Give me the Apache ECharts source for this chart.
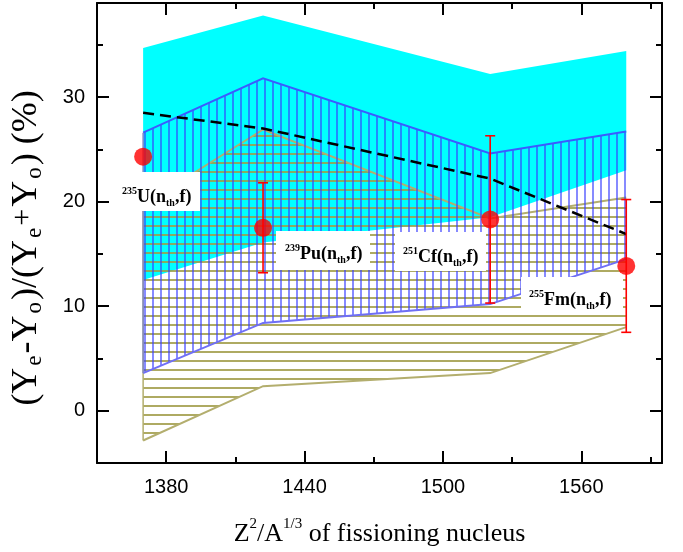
<!DOCTYPE html>
<html>
<head>
<meta charset="utf-8">
<script src="https://cdn.jsdelivr.net/npm/echarts@6/dist/echarts.min.js"></script>
<style>
  html, body { margin: 0; padding: 0; background: #fff; }
  #chart { width: 683px; height: 552px; }
</style>
</head>
<body>
<div id="chart"></div>
<script>
// Z^2/A^(1/3) of the four fissioning systems
const nucleusX = [1370, 1422, 1520.5, 1579.5];

// measured points (red) with error bars (null = no bar)
const expValues = [24.3, 17.5, 18.3, 13.85];
const expErrLow = [null, 13.2, 10.3, 7.5];
const expErrHigh = [null, 21.8, 26.3, 20.2];

// calculated bands
const cyanTop = [34.7, 37.8, 32.2, 34.4];
const cyanBottom = [12.5, 16.1, 18.5, 23.0];
const blueTop = [26.6, 31.8, 24.6, 26.7];
const blueBottom = [3.6, 8.4, 10.2, 14.5];
const oliveTop = [19.7, 26.9, 18.4, 20.4];
const oliveBottom = [-2.85, 2.35, 3.6, 8.0];

// dashed curve
const dashedValues = [28.5, 27.0, 22.2, 16.9];

// ticks
const xMajorTicks = [1380, 1440, 1500, 1560];
const xMinorTicks = [1410, 1470, 1530, 1590];
const yMajorTicks = [0, 10, 20, 30];
const yMinorTicks = [5, 15, 25, 35];

const serif = "'Liberation Serif', 'Times New Roman', serif";
const sans = "'Liberation Sans', Arial, sans-serif";

function hatch(w, h, color, vertical, lw) {
    const c = document.createElement('canvas');
    c.width = w;
    c.height = h;
    const ctx = c.getContext('2d');
    ctx.fillStyle = color;
    if (vertical) ctx.fillRect(0, 0, lw, h);
    else ctx.fillRect(0, 0, w, lw);
    return { image: c, repeat: 'repeat' };
}

function bandSeries(name, top, bottom, fill, edges, z) {
    return {
        name: name,
        type: 'custom',
        z: z,
        silent: true,
        data: nucleusX.map((x, i) => [x, bottom[i], top[i]]),
        encode: { x: 0, y: [1, 2] },
        renderItem: (params, api) => {
            if (params.dataIndex !== 0) return null;
            const up = nucleusX.map((x, i) => api.coord([x, top[i]]));
            const lo = nucleusX.map((x, i) => api.coord([x, bottom[i]]));
            const children = [{
                type: 'polygon',
                shape: { points: up.concat(lo.slice().reverse()) },
                style: { fill: fill }
            }];
            if (edges.top) children.push({ type: 'polyline', shape: { points: up }, style: { stroke: edges.top, lineWidth: 2, fill: null } });
            if (edges.bottom) children.push({ type: 'polyline', shape: { points: lo }, style: { stroke: edges.bottom, lineWidth: 2, fill: null } });
            if (edges.left) children.push({ type: 'line', shape: { x1: up[0][0], y1: up[0][1], x2: lo[0][0], y2: lo[0][1] }, style: { stroke: edges.left, lineWidth: 1.5 } });
            return { type: 'group', children: children };
        }
    };
}

function axisSet(dim, position, ticks, len, main) {
    const isX = dim === 'x';
    return {
        type: 'value',
        position: position,
        min: isX ? 1350 : -5,
        max: isX ? 1595 : 39,
        splitLine: { show: false },
        axisLine: { show: main, onZero: false, lineStyle: { color: '#000', width: 2 } },
        axisTick: { show: true, inside: true, length: len, customValues: ticks, lineStyle: { color: '#000', width: 2 } },
        axisLabel: { show: false }
    };
}

const xAxes = [
    axisSet('x', 'bottom', xMajorTicks, 12, true),
    axisSet('x', 'bottom', xMinorTicks, 6, false),
    axisSet('x', 'top', xMajorTicks, 12, true),
    axisSet('x', 'top', xMinorTicks, 6, false)
];
xAxes[0].axisLabel = {
    show: true, customValues: xMajorTicks, fontFamily: sans, fontSize: 20, color: '#000', margin: 14,
    formatter: v => String(v)
};
xAxes[0].name = '{n|Z}{sup|2}{n|/A}{sup|1/3}{n| of fissioning nucleus}';
xAxes[0].nameLocation = 'middle';
xAxes[0].nameGap = 54;
xAxes[0].nameTextStyle = {
    rich: {
        n: { fontFamily: serif, fontSize: 26, color: '#000', lineHeight: 30, verticalAlign: 'bottom' },
        sup: { fontFamily: serif, fontSize: 15, color: '#000', lineHeight: 15, verticalAlign: 'top' }
    }
};

const yAxes = [
    axisSet('y', 'left', yMajorTicks, 12, true),
    axisSet('y', 'left', yMinorTicks, 6, false),
    axisSet('y', 'right', yMajorTicks, 12, true),
    axisSet('y', 'right', yMinorTicks, 6, false)
];
yAxes[0].axisLabel = {
    show: true, customValues: yMajorTicks, fontFamily: sans, fontSize: 20, color: '#000', margin: 12,
    formatter: v => String(v)
};
yAxes[0].name = '{n|(Y}{sub|e}{n|-Y}{sub|o}{n|)/(Y}{sub|e}{sup|+}{n|Y}{sub|o}{end|) (%)}';
yAxes[0].nameLocation = 'middle';
yAxes[0].nameRotate = 90;
yAxes[0].nameGap = 51;
yAxes[0].nameTextStyle = {
    rich: {
        n: { fontFamily: serif, fontSize: 36, color: '#000', lineHeight: 38, verticalAlign: 'middle' },
        end: { fontFamily: serif, fontSize: 36, color: '#000', lineHeight: 38, verticalAlign: 'middle', padding: [0, 30, 0, 0] },
        sub: { fontFamily: serif, fontSize: 23, color: '#000', lineHeight: 15, verticalAlign: 'bottom', padding: [0, 2, 0, 2] },
        sup: { fontFamily: serif, fontSize: 30, color: '#000', lineHeight: 30, verticalAlign: 'top', padding: [0, 2, 0, 0] }
    }
};

const labelRich = {
    b: { fontFamily: serif, fontWeight: 'bold', fontSize: 18, lineHeight: 22, fill: '#000' },
    sup: { fontFamily: serif, fontWeight: 'bold', fontSize: 10, lineHeight: 10, verticalAlign: 'top', fill: '#000' },
    sub: { fontFamily: serif, fontWeight: 'bold', fontSize: 10, lineHeight: 10, verticalAlign: 'bottom', fill: '#000' }
};

function reactionLabel(box, tx, ty, mass, sym) {
    return [
        { type: 'rect', z: 10, silent: true, shape: { x: box[0], y: box[1], width: box[2], height: box[3] }, style: { fill: '#fff' } },
        {
            type: 'text', z: 11, silent: true, x: tx, y: ty,
            style: { text: '{sup|' + mass + '}{b|' + sym + '(n}{sub|th}{b|,f)}', rich: labelRich, verticalAlign: 'top', align: 'left' }
        }
    ];
}

const chart = echarts.init(document.getElementById('chart'), null, { renderer: 'canvas' });

chart.setOption({
    animation: false,
    backgroundColor: '#fff',
    grid: { left: 94, right: 21, top: 3, bottom: 88 },
    xAxis: xAxes,
    yAxis: yAxes,
    graphic: [].concat(
        reactionLabel([112, 172, 88, 39], 122, 186, '235', 'U'),
        reactionLabel([276, 231, 94, 39], 285, 243, '239', 'Pu'),
        reactionLabel([395, 232, 91, 39], 403, 246, '251', 'Cf'),
        reactionLabel([521, 277, 102, 35], 529, 289, '255', 'Fm')
    ),
    series: [
        bandSeries('cyan', cyanTop, cyanBottom, '#00ffff', {}, 1),
        bandSeries('olive', oliveTop, oliveBottom, hatch(9, 9, 'rgba(160,155,70,0.85)', false, 2),
            { top: '#b3ae6e', bottom: '#b3ae6e', left: '#b3ae6e' }, 2),
        bandSeries('blue', blueTop, blueBottom, hatch(8, 8, 'rgba(55,60,255,0.6)', true, 2),
            { top: '#3b5bff', bottom: '#6f6ff5', left: '#7f86c8' }, 3),
        {
            type: 'line',
            z: 4,
            silent: true,
            data: nucleusX.map((x, i) => [x, dashedValues[i]]),
            symbol: 'none',
            lineStyle: { color: '#000', width: 2.5, type: [11, 6] }
        },
        {
            type: 'custom',
            z: 19,
            silent: true,
            data: nucleusX.map((x, i) => [x, expErrLow[i], expErrHigh[i]]).filter(d => d[1] !== null),
            encode: { x: 0, y: [1, 2] },
            renderItem: (params, api) => {
                const x = api.value(0);
                const p1 = api.coord([x, api.value(1)]);
                const p2 = api.coord([x, api.value(2)]);
                const cap = 5;
                const st = { stroke: '#ff0000', lineWidth: 1.6 };
                return {
                    type: 'group',
                    children: [
                        { type: 'line', shape: { x1: p1[0], y1: p1[1], x2: p2[0], y2: p2[1] }, style: st },
                        { type: 'line', shape: { x1: p1[0] - cap, y1: p1[1], x2: p1[0] + cap, y2: p1[1] }, style: st },
                        { type: 'line', shape: { x1: p2[0] - cap, y1: p2[1], x2: p2[0] + cap, y2: p2[1] }, style: st }
                    ]
                };
            }
        },
        {
            type: 'scatter',
            z: 20,
            silent: true,
            symbol: 'circle',
            symbolSize: 18,
            itemStyle: { color: '#ff0000' },
            data: nucleusX.map((x, i) => [x, expValues[i]])
        }
    ]
});
</script>
</body>
</html>
